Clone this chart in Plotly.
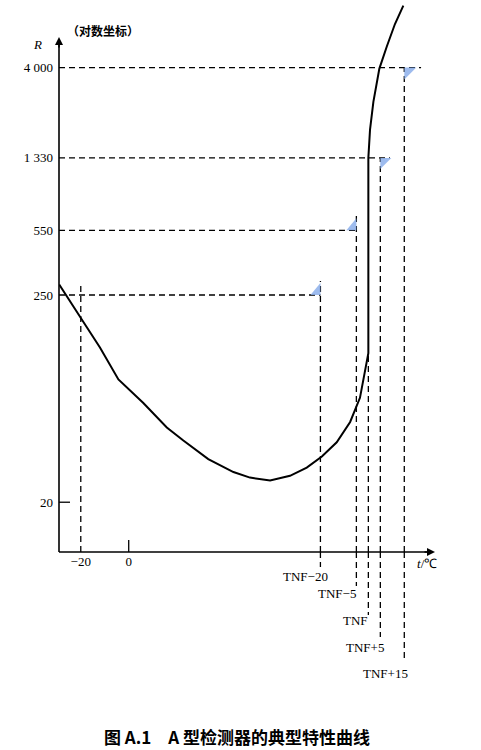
import numpy as np
import plotly.graph_objects as go

# ---------------- data ----------------
TNF = 100  # nominal response temperature used for the schematic axis
temp_ticks = [-20, 0]
temp_tick_labels = ["\u221220", "0"]
tnf_offsets = [-20, -5, 0, 5, 15]
tnf_labels = ["TNF\u221220", "TNF\u22125", "TNF", "TNF+5", "TNF+15"]

r_ticks = [20, 250, 550, 1330, 4000]
r_tick_labels = ["20", "250", "550", "1 330", "4 000"]

# characteristic curve: temperature (°C) and resistance R
curve_t = [-29.0, -25.9, -18.9, -12.0, -4.3, 6.1, 15.9, 22.8, 33.2, 43.7, 50.6,
           59.0, 67.3, 74.3, 80.6, 86.8, 92.4, 96.5, 98.6, 100.0, 100.0,
           100.7, 102.1, 104.6, 107.7, 111.1, 114.6]
curve_r = [284, 248, 180, 132, 89.4, 67, 49.7, 42.4, 33.8, 28.9, 27.0,
           26.1, 27.6, 30.5, 34.9, 41.5, 53.2, 71.4, 98, 123, 1330,
           1879, 2635, 3950, 5170, 6800, 8510]

# dashed reference lines: R level and temperature where the dash ends
level_r = [4000, 1330, 550, 250]
level_end_t = [122, 109, 95, 80]
# top of each vertical dashed line (R), for TNF offsets
tnf_top_r = [297, 680, 123, 1330, 4000]
minus20_top_r = 280

# ---------------- layout geometry ----------------
W, H = 481, 750
L, R_, T, B = 59, 41, 5, 198
PW, PH = W - L - R_, H - T - B
x_range = [-29.09, 129.9]
y_range = [1.0375, 3.9332]
y_bottom = 10 ** y_range[0]


def px(p):
    return (p - L) / PW


def py(p):
    return (H - B - p) / PH


fig = go.Figure()
fig.add_trace(go.Scatter(x=curve_t, y=curve_r, mode="lines",
                         line=dict(color="black", width=2), hoverinfo="skip",
                         showlegend=False))

shapes = []
dash = "6px,4px"
dline = dict(color="black", width=1.3, dash=dash)

# horizontal dashed lines
for r, te in zip(level_r, level_end_t):
    shapes.append(dict(type="line", xref="x", yref="y", x0=x_range[0], x1=te,
                       y0=r, y1=r, line=dline))
# -20 vertical
shapes.append(dict(type="line", xref="x", yref="y", x0=-20, x1=-20,
                   y0=y_bottom, y1=minus20_top_r, line=dline))
# TNF verticals (inside plot + extension below axis)
ext_px = [15, 34, 63, 85, 110]
for off, top, ex in zip(tnf_offsets, tnf_top_r, ext_px):
    xv = TNF + off
    shapes.append(dict(type="line", xref="x", yref="y", x0=xv, x1=xv,
                       y0=y_bottom, y1=top, line=dline))
    shapes.append(dict(type="line", xref="x", yref="paper", x0=xv, x1=xv,
                       y0=0, y1=-ex / PH, line=dline))

# axes
shapes.append(dict(type="line", xref="paper", yref="paper", x0=0, x1=px(433),
                   y0=0, y1=0, line=dict(color="black", width=1.6)))
shapes.append(dict(type="line", xref="paper", yref="paper", x0=0, x1=0,
                   y0=0, y1=py(40), line=dict(color="black", width=1.6)))
# small tick at 0 and at R=20
shapes.append(dict(type="line", xref="x", yref="paper", x0=0, x1=0,
                   y0=0, y1=12 / PH, line=dict(color="black", width=1.3)))
shapes.append(dict(type="line", xref="paper", yref="y", x0=0, x1=11 / PW,
                   y0=20, y1=20, line=dict(color="black", width=1.3)))

# light blue corner marks
blue = "rgba(140,175,235,0.85)"
marks = [(TNF + 15, 4000, "M0,0 L12,0 L0,-12 Z"),
         (TNF + 5, 1330, "M0,0 L11,0 L0,-11 Z"),
         (TNF - 5, 550, "M0,0 L0,12 L-10,0 Z"),
         (TNF - 20, 250, "M0,0 L0,12 L-10,0 Z")]
for xa, ya, path in marks:
    shapes.append(dict(type="path", xref="x", yref="y", xsizemode="pixel",
                       ysizemode="pixel", xanchor=xa, yanchor=ya, path=path,
                       fillcolor=blue, line=dict(width=0)))

annotations = []
serif = "Liberation Serif"
cjk = "Noto Sans CJK SC"
label_shift = [(10, 24), (2, 41), (2, 68), (6, 95), (6, 121)]
for off, lab, (xs, ys) in zip(tnf_offsets, tnf_labels, label_shift):
    annotations.append(dict(x=TNF + off, xref="x", y=0, yref="paper", text=lab,
                            showarrow=False, xanchor="right", yanchor="middle",
                            xshift=xs, yshift=-ys,
                            font=dict(family=serif, size=13, color="black")))

centered = dict(xref="paper", yref="paper", showarrow=False,
                xanchor="center", yanchor="middle")
annotations += [
    dict(x=px(103), y=py(31), text="<b>（对数坐标）</b>",
         font=dict(family=cjk, size=12, color="black"), **centered),
    dict(x=px(37), y=py(44), text="<i>R</i>",
         font=dict(family=serif, size=13, color="black"), **centered),
    dict(x=px(427), y=py(563), text="<i>t</i>/\u2103",
         font=dict(family=serif, size=13, color="black"), **centered),
    dict(x=px(237), y=py(736),
         text="<b>图 A.1\u3000A 型检测器的典型特性曲线</b>",
         font=dict(family=cjk, size=17, color="black"), **centered),
    # axis arrows
    dict(x=px(435), y=0, xref="paper", yref="paper", text="", showarrow=True,
         ax=-12, ay=0, arrowhead=2, arrowsize=1, arrowwidth=1.6,
         arrowcolor="black", standoff=0),
    dict(x=0, y=py(37), xref="paper", yref="paper", text="", showarrow=True,
         ax=0, ay=12, arrowhead=2, arrowsize=1, arrowwidth=1.6,
         arrowcolor="black", standoff=0),
]

fig.update_layout(
    width=W, height=H, margin=dict(l=L, r=R_, t=T, b=B),
    paper_bgcolor="white", plot_bgcolor="white",
    shapes=shapes, annotations=annotations, showlegend=False,
    xaxis=dict(range=x_range, showgrid=False, zeroline=False, showline=False,
               tickvals=temp_ticks, ticktext=temp_tick_labels, ticks="",
               tickfont=dict(family=serif, size=13, color="black"),
               fixedrange=True),
    yaxis=dict(type="log", range=y_range, showgrid=False, zeroline=False,
               showline=False, tickvals=r_ticks, ticktext=r_tick_labels,
               ticks="", ticklabelstandoff=5,
               tickfont=dict(family=serif, size=13, color="black"),
               fixedrange=True),
)

fig.write_html("out.html", config={"displayModeBar": False},
               post_script="document.body.style.margin='0';"
                           "document.body.style.overflow='hidden';")
